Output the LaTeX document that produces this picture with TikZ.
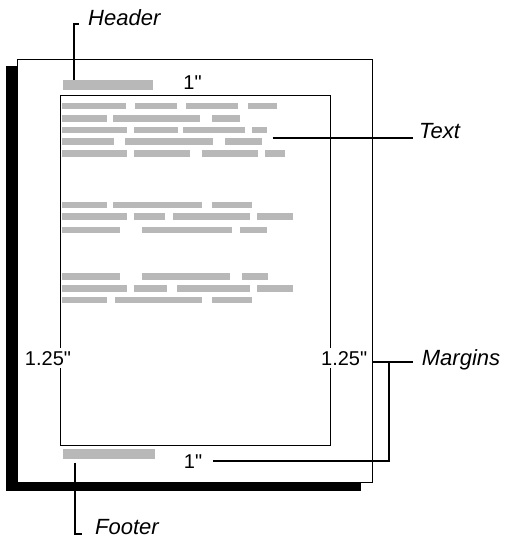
\documentclass[tikz,border=0pt]{standalone}
\usepackage{fontspec}
\setmainfont{Liberation Sans}
\newfontfamily\numfont{Liberation Sans}[Ligatures=TeXOff]
\usetikzlibrary{calc}
\tikzset{
  pageframe/.style={draw=black, line width=1.4pt, fill=white, inner sep=0pt, outer sep=0pt},
  textframe/.style={draw=black, line width=0.9pt, inner sep=0pt, outer sep=0pt},
  grayblock/.style={fill=black!28, draw=none, inner sep=0pt, outer sep=0pt},
  word/.style={fill=black!28},
  callout/.style={draw=black, line width=1.8pt},
  lbl/.style={inner sep=0pt, font=\fontsize{22}{22}\selectfont\itshape},
  measure/.style={fill=white, inner xsep=2pt, inner ysep=3pt, font=\numfont\fontsize{20}{20}\selectfont}
}
\begin{document}
\begin{tikzpicture}[x=1pt,y=-1pt]
\useasboundingbox (0,0) rectangle (511,539);
% shadow
\fill[black] (6,66) rectangle (361,490.7);
% page
\node[pageframe, minimum width=355.4pt, minimum height=423.4pt] (page) at (195,271) {};
% text area
\node[textframe, minimum width=270.4pt, minimum height=350pt] (textarea) at (195.5,270) {};
% header and footer blocks
\node[grayblock, minimum width=90.5pt, minimum height=10pt] (hdrblock) at (107.75,84.5) {};
\node[grayblock, minimum width=92.5pt, minimum height=10pt] (ftrblock) at (108.75,454) {};
% body text
\foreach \yy/\ws in {
  102.7/{61.7/126,135/176.7,186/237.7,248.3/276.7},
  115/{61.7/106.7,113.3/200,211.7/240},
  126.7/{61.7/126.7,134/177.7,183.3/245,251.7/266.7},
  138.3/{61.7/114.3,125/213.3,225/261.7},
  150/{61.7/126.7,134.3/190,201.7/258.3,265/285},
  201.7/{61.7/106.7,113.3/201.7,211.7/251.7},
  213.3/{61.7/126.7,134/165,173.3/250,256.7/293.3},
  226.7/{61.7/120,141.7/231.7,240/266.7},
  273.3/{61.7/120,141.7/230,241.7/268.3},
  285/{61.7/126.7,134/166.7,176.7/250,256.7/293.3},
  296.7/{61.7/106.7,115/201.7,211.7/251.7}}{
  \foreach \aa/\bb in \ws {
    \fill[word] (\aa,\yy) rectangle (\bb,\yy+6.7);
  }
}
% measurements
\node[measure, anchor=base] (mtop) at (192.5,89) {1"};
\node[measure, anchor=base] (mbot) at (193,468) {1"};
\node[measure, anchor=base] (mleft) at (48,365) {1.25"};
\node[measure, anchor=base] (mright) at (344.2,365) {1.25"};
% labels
\node[lbl, anchor=base west] (hdrlbl) at (88,25.7) {Header};
\node[lbl, anchor=base west] (ftrlbl) at (95,534.5) {Footer};
\node[lbl, anchor=base west] (txtlbl) at (419,138.3) {Text};
\node[lbl, anchor=base west] (mrglbl) at (421.7,365) {Margins};
% callouts
\coordinate (hx) at (74,0);
\coordinate (hdrend) at (78.5,24);
\draw[callout] (hdrblock.north -| hx) |- (hdrend);
\coordinate (fx) at (75,0);
\coordinate (ftrend) at (81.5,534);
\draw[callout, shorten <=3.5pt] (ftrblock.south -| fx) |- (ftrend);
\coordinate (txtstart) at (272.7,137.7);
\draw[callout] (txtstart) -- ($(txtlbl.base west |- txtstart)+(-6.3,0)$);
\coordinate (mrgy) at (0,362.3);
\coordinate (mrgbend) at (389,362.3);
\draw[callout] (page.east |- mrgy) -- ($(mrglbl.base west |- mrgy)+(-8.4,0)$);
\draw[callout] (mrgbend) |- ($(mbot.east)+(9,-0.5)$);
\end{tikzpicture}
\end{document}
